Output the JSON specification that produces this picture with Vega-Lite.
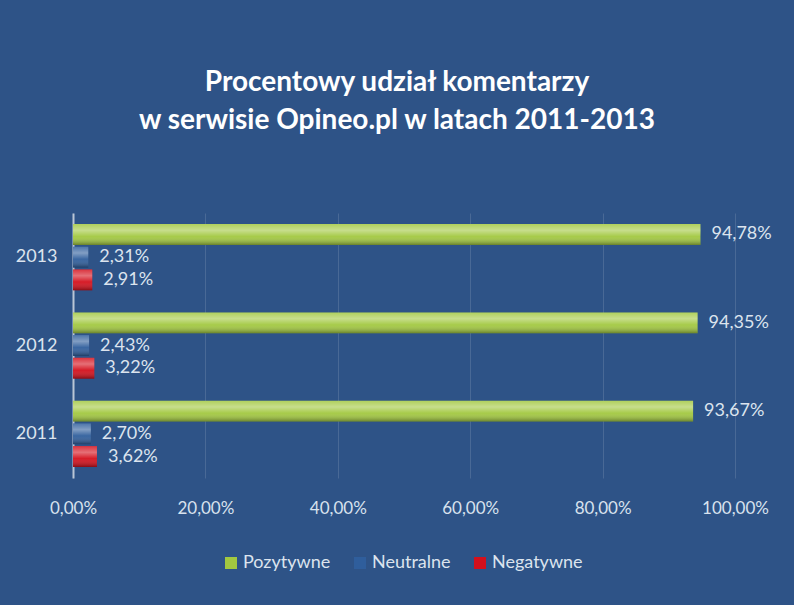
{
  "$schema": "https://vega.github.io/schema/vega-lite/v6.json",
  "width": 662,
  "height": 265,
  "autosize": {"type": "none"},
  "padding": {"left": 73, "top": 213, "right": 59, "bottom": 127},
  "background": "#2e5387",
  "config": {
    "font": "Lato",
    "locale": {"number": {"decimal": ",", "thousands": " ", "grouping": [3], "currency": ["", " zł"]}},
    "view": {"stroke": null}
  },
  "title": {
    "text": ["Procentowy udział komentarzy", "w serwisie Opineo.pl w latach 2011-2013"],
    "color": "#ffffff",
    "fontSize": 28,
    "fontWeight": "bold",
    "anchor": "middle",
    "lineHeight": 38,
    "offset": 78,
    "dx": -7
  },
  "data": {
    "values": [
      {"year": "2013", "series": "Pozytywne", "value": 0.9478},
      {"year": "2013", "series": "Neutralne", "value": 0.0231},
      {"year": "2013", "series": "Negatywne", "value": 0.0291},
      {"year": "2012", "series": "Pozytywne", "value": 0.9435},
      {"year": "2012", "series": "Neutralne", "value": 0.0243},
      {"year": "2012", "series": "Negatywne", "value": 0.0322},
      {"year": "2011", "series": "Pozytywne", "value": 0.9367},
      {"year": "2011", "series": "Neutralne", "value": 0.0270},
      {"year": "2011", "series": "Negatywne", "value": 0.0362}
    ]
  },
  "encoding": {
    "y": {
      "field": "year",
      "type": "nominal",
      "sort": "descending",
      "scale": {"paddingInner": 0.25, "paddingOuter": 0.125},
      "axis": {
        "title": null,
        "ticks": false,
        "labelFontSize": 18,
        "labelColor": "#dce4ee",
        "labelPadding": 16,
        "domainColor": "#b9c6d6",
        "domainWidth": 2,
        "grid": false
      }
    },
    "yOffset": {
      "field": "series",
      "sort": ["Pozytywne", "Neutralne", "Negatywne"],
      "scale": {"paddingInner": 0.08}
    },
    "x": {
      "field": "value",
      "type": "quantitative",
      "scale": {"domain": [0, 1]},
      "axis": {
        "title": null,
        "format": ".2%",
        "values": [0, 0.2, 0.4, 0.6, 0.8, 1],
        "domain": false,
        "ticks": false,
        "grid": true,
        "gridColor": "#ffffff",
        "gridOpacity": 0.13,
        "labelFlush": false,
        "labelFontSize": 17,
        "labelColor": "#d8e2ee",
        "labelPadding": 22
      }
    }
  },
  "layer": [
    {
      "mark": {"type": "bar"},
      "encoding": {
        "color": {
          "field": "series",
          "type": "nominal",
          "sort": ["Pozytywne", "Neutralne", "Negatywne"],
          "scale": {"domain": ["Pozytywne", "Neutralne", "Negatywne"], "range": ["#a2c840", "#2f5e9c", "#d4101c"]},
          "legend": {
            "title": null,
            "orient": "none",
            "legendX": 149,
            "legendY": 341,
            "direction": "horizontal",
            "symbolType": "square",
            "symbolSize": 144,
            "symbolStrokeWidth": 0,
            "labelFontSize": 18,
            "labelColor": "#dce4ee",
            "columnPadding": 20,
            "labelOffset": 3
          }
        }
      }
    },
    {
      "mark": {
        "type": "bar",
        "fill": {
          "gradient": "linear",
          "x1": 0, "y1": 0, "x2": 0, "y2": 1,
          "stops": [
            {"offset": 0, "color": "rgba(255,255,255,0.15)"},
            {"offset": 0.3, "color": "rgba(255,255,255,0.4)"},
            {"offset": 0.6, "color": "rgba(255,255,255,0.05)"},
            {"offset": 1, "color": "rgba(0,0,0,0.35)"}
          ]
        }
      }
    },
    {
      "mark": {"type": "text", "align": "left", "baseline": "middle", "dx": 11, "fontSize": 18, "color": "#dce4ee"},
      "encoding": {"text": {"field": "value", "type": "quantitative", "format": ".2%"}}
    }
  ]
}
